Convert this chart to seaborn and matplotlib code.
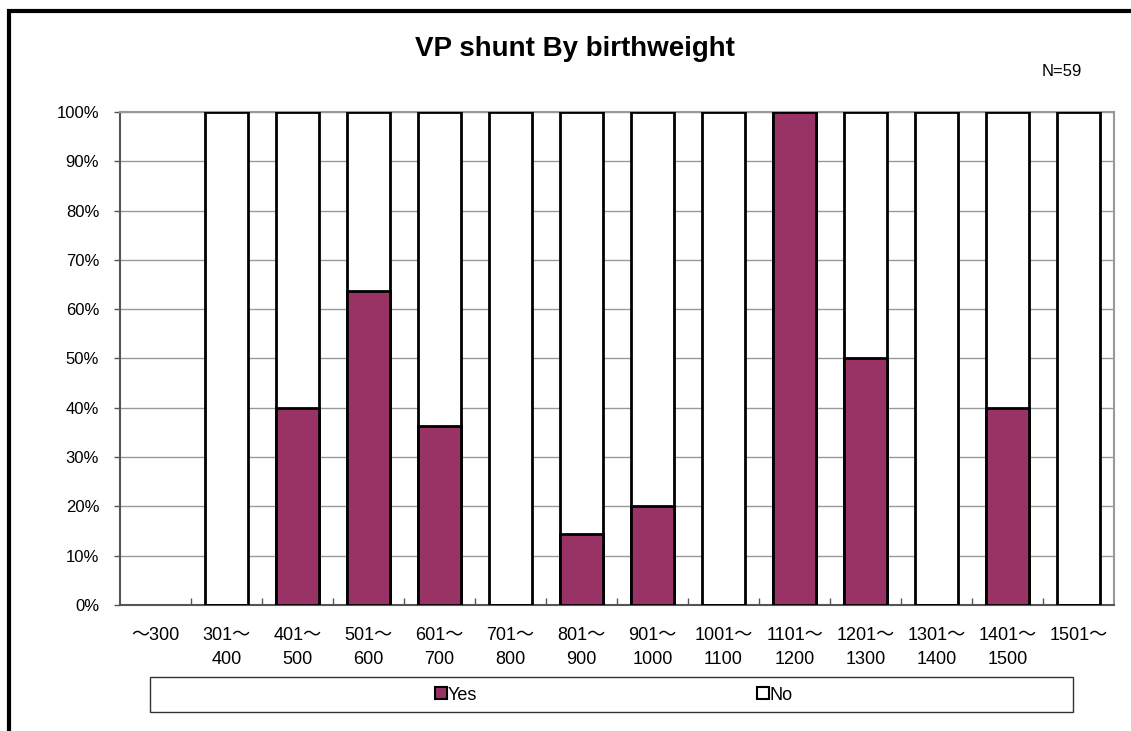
import numpy as np
import pandas as pd
import seaborn as sns
import matplotlib.pyplot as plt
from matplotlib.lines import Line2D
from matplotlib.patches import Rectangle

# birthweight groups (g)
categories = ['～300', '301～\n400', '401～\n500', '501～\n600', '601～\n700', '701～\n800',
              '801～\n900', '901～\n1000', '1001～\n1100', '1101～\n1200', '1201～\n1300',
              '1301～\n1400', '1401～\n1500', '1501～']
# share with VP shunt (%), NaN = no cases in that group
yes_pct = [np.nan, 0, 40, 63.6, 36.4, 0, 14.3, 20, 0, 100, 50, 0, 40, 0]
no_pct = [np.nan, 100, 60, 36.4, 63.6, 100, 85.7, 80, 100, 0, 50, 100, 60, 100]
n_total = 59

df = pd.DataFrame({'group': categories, 'Yes': yes_pct, 'No': no_pct})
df['total'] = df['Yes'] + df['No']

sns.set_style('white')
plt.rcParams['font.family'] = ['Liberation Sans', 'Noto Sans CJK JP']
plt.rcParams['text.color'] = 'black'
plt.rcParams['xtick.labelcolor'] = 'black'
plt.rcParams['ytick.labelcolor'] = 'black'

fig = plt.figure(figsize=(11.31, 7.31), dpi=100)
ax = fig.add_axes([0.1061, 0.1724, 0.8789, 0.6744])

yes_col = '#993366'
sns.barplot(data=df, x='group', y='total', color='white', edgecolor='black',
            linewidth=2, width=0.6, saturation=1, ax=ax, zorder=3)
sns.barplot(data=df, x='group', y='Yes', color=yes_col, edgecolor='black',
            linewidth=2, width=0.6, saturation=1, ax=ax, zorder=4)

ax.set_xlim(-0.5, len(categories) - 0.5)
ax.set_ylim(0, 100)
ax.set_yticks(np.arange(0, 101, 10))
ax.set_yticklabels([f'{v}%' for v in range(0, 101, 10)], fontsize=12, color='black')
ax.yaxis.grid(True, color='#999999', linewidth=1, zorder=0)
ax.set_axisbelow(True)
ax.set_xlabel('')
ax.set_ylabel('')
ax.tick_params(axis='x', length=0, labelsize=13, pad=16, labelcolor='black')
for lbl in ax.get_xticklabels():
    lbl.set_linespacing(1.55)
ax.tick_params(axis='y', left=True, length=4, width=1, color='#555555', pad=11)
ax.set_xticks(np.arange(0.5, len(categories) - 0.5), minor=True)
ax.tick_params(axis='x', which='minor', direction='in', length=5, width=1,
               color='#555555', bottom=True)
for side in ['top', 'right']:
    ax.spines[side].set_color('#999999')
    ax.spines[side].set_linewidth(1.5)
for side in ['left', 'bottom']:
    ax.spines[side].set_color('#555555')
    ax.spines[side].set_linewidth(1.5)

fig.text(0.508, 0.933, 'VP shunt By birthweight', ha='center', va='center',
         fontsize=20, fontweight='bold', color='black')
fig.text(0.939, 0.902, f'N={n_total}', ha='center', va='center', fontsize=12,
         color='black')

# legend box
fig.patches.append(Rectangle((150 / 1131, 1 - 712 / 731), 923 / 1131, 35 / 731,
                             transform=fig.transFigure, facecolor='white',
                             edgecolor='#333333', linewidth=1))
handles = [Line2D([], [], marker='s', linestyle='', markersize=8, markerfacecolor=yes_col,
                  markeredgecolor='black', markeredgewidth=1.5),
           Line2D([], [], marker='s', linestyle='', markersize=8, markerfacecolor='white',
                  markeredgecolor='black', markeredgewidth=1.5)]
leg = fig.legend(handles, ['Yes', 'No'], loc='center', bbox_to_anchor=(0.543, 1 - 695 / 731),
                 ncol=2, frameon=False, fontsize=13, handlelength=0.6, handletextpad=0.1,
                 columnspacing=15.5)
for t in leg.get_texts():
    t.set_color('black')

# outer frame
fig.patches.append(Rectangle((9 / 1131, -0.1), 1.2, 1 - 11 / 731 + 0.1,
                             transform=fig.transFigure, fill=False,
                             edgecolor='black', linewidth=3))

fig.savefig('out.png', dpi=100)
